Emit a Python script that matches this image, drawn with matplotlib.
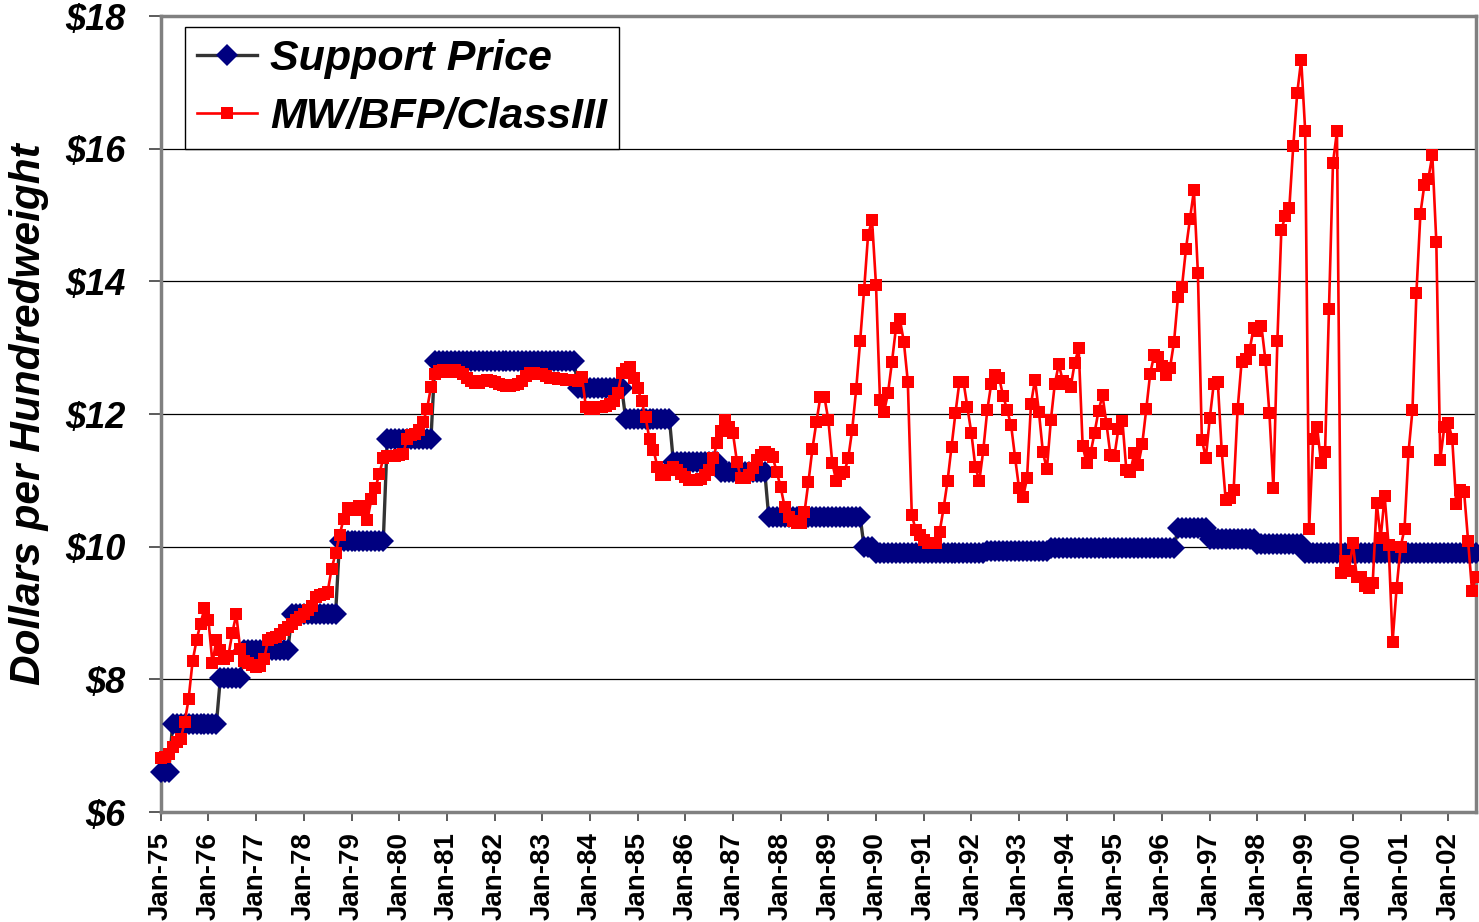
import numpy as np
import matplotlib
matplotlib.use('Agg')
import matplotlib.pyplot as plt

# monthly prices, $/cwt (Jan-75 .. Aug-02)
mw_1975_79 = [6.81, 6.83, 6.88, 6.98, 7.06, 7.10, 7.35, 7.70, 8.27, 8.59, 8.84, 9.07,
              8.89, 8.25, 8.59, 8.44, 8.31, 8.35, 8.70, 8.98, 8.45, 8.27, 8.25, 8.22,
              8.19, 8.20, 8.31, 8.59, 8.62, 8.64, 8.69, 8.74, 8.79, 8.84, 8.89, 8.94,
              8.98, 9.04, 9.11, 9.24, 9.27, 9.29, 9.32, 9.67, 9.90, 10.17, 10.42, 10.59,
              10.57, 10.56, 10.62, 10.57, 10.40, 10.72, 10.88, 11.10, 11.33, 11.36, 11.36, 11.37]
mw_1980_84 = [11.38, 11.40, 11.63, 11.68, 11.70, 11.76, 11.88, 12.07, 12.41, 12.61, 12.65, 12.66,
              12.64, 12.66, 12.67, 12.64, 12.60, 12.55, 12.50, 12.47, 12.47, 12.50, 12.52, 12.50,
              12.48, 12.46, 12.44, 12.43, 12.43, 12.44, 12.46, 12.50, 12.58, 12.62, 12.62, 12.60,
              12.60, 12.58, 12.55, 12.54, 12.53, 12.53, 12.52, 12.52, 12.52, 12.50, 12.56, 12.10,
              12.08, 12.08, 12.10, 12.10, 12.12, 12.15, 12.20, 12.31, 12.62, 12.68, 12.71, 12.55]
mw_1985_89 = [12.39, 12.20, 11.95, 11.62, 11.46, 11.20, 11.08, 11.08, 11.15, 11.20, 11.16, 11.10,
              11.05, 11.00, 11.00, 11.00, 11.02, 11.08, 11.15, 11.33, 11.56, 11.75, 11.91, 11.80,
              11.71, 11.28, 11.03, 11.03, 11.08, 11.18, 11.30, 11.38, 11.43, 11.40, 11.35, 11.13,
              10.90, 10.60, 10.45, 10.38, 10.35, 10.35, 10.52, 10.98, 11.48, 11.88, 12.26, 12.26,
              11.91, 11.26, 10.99, 11.10, 11.12, 11.33, 11.76, 12.37, 13.10, 13.87, 14.70, 14.92]
mw_1990_94 = [13.94, 12.21, 12.03, 12.31, 12.78, 13.29, 13.43, 13.09, 12.49, 10.48, 10.25, 10.17,
              10.10, 10.05, 10.05, 10.05, 10.22, 10.58, 10.99, 11.50, 12.02, 12.49, 12.49, 12.10,
              11.71, 11.20, 10.99, 11.46, 12.06, 12.46, 12.59, 12.54, 12.27, 12.06, 11.83, 11.34,
              10.88, 10.75, 11.03, 12.15, 12.52, 12.03, 11.42, 11.17, 11.91, 12.46, 12.75, 12.50,
              12.45, 12.41, 12.77, 12.99, 11.52, 11.26, 11.41, 11.72, 12.05, 12.28, 11.85, 11.38]
mw_1995_99 = [11.37, 11.78, 11.90, 11.15, 11.13, 11.41, 11.23, 11.55, 12.07, 12.61, 12.89, 12.86,
              12.73, 12.59, 12.70, 13.09, 13.77, 13.92, 14.49, 14.94, 15.37, 14.13, 11.61, 11.34,
              11.94, 12.46, 12.49, 11.44, 10.70, 10.74, 10.86, 12.07, 12.79, 12.83, 12.96, 13.29,
              13.25, 13.32, 12.81, 12.01, 10.88, 13.10, 14.77, 14.99, 15.10, 16.04, 16.84, 17.34,
              16.27, 10.27, 11.62, 11.81, 11.26, 11.42, 13.59, 15.79, 16.26, 9.60, 9.79, 9.63]
mw_2000_02 = [10.05, 9.54, 9.54, 9.41, 9.37, 9.46, 10.66, 10.13, 10.76, 10.02, 8.57, 9.37,
              9.99, 10.27, 11.42, 12.06, 13.83, 15.02, 15.46, 15.55, 15.90, 14.60, 11.31, 11.80,
              11.87, 11.63, 10.65, 10.85, 10.82, 10.09, 9.33, 9.55]

# support price: level and how many months it held
support_levels = [6.61, 7.33, 8.02, 8.44, 8.99, 10.09, 11.63, 12.80, 12.39, 11.93, 11.28,
                  11.13, 10.45, 10.00, 9.91, 9.94, 9.98, 10.28, 10.11, 10.04, 9.91]
support_months = [3, 12, 6, 12, 12, 12, 12, 36, 12, 12, 12,
                  12, 24, 3, 28, 16, 32, 8, 12, 12, 44]

tick_labels = ['Jan-75', 'Jan-76', 'Jan-77', 'Jan-78', 'Jan-79', 'Jan-80', 'Jan-81',
               'Jan-82', 'Jan-83', 'Jan-84', 'Jan-85', 'Jan-86', 'Jan-87', 'Jan-88',
               'Jan-89', 'Jan-90', 'Jan-91', 'Jan-92', 'Jan-93', 'Jan-94', 'Jan-95',
               'Jan-96', 'Jan-97', 'Jan-98', 'Jan-99', 'Jan-00', 'Jan-01', 'Jan-02']

mw_price = np.array(mw_1975_79 + mw_1980_84 + mw_1985_89 + mw_1990_94 + mw_1995_99 + mw_2000_02)
support = np.repeat(support_levels, support_months)
months = np.arange(len(mw_price))

plt.rcParams['font.family'] = ['Liberation Sans', 'DejaVu Sans']

fig = plt.figure(figsize=(14.79, 9.22), dpi=100)
ax = fig.add_axes([0.1087, 0.1193, 0.8893, 0.8633])

ax.plot(months, support, color='#333333', lw=2.4, marker='D', ms=10.8,
        mfc='#000080', mec='#000080', mew=0, label='Support Price', clip_on=False, zorder=3)
ax.plot(months, mw_price, color='#ff0000', lw=1.9, marker='s', ms=8.3,
        mfc='#ff0000', mec='#ff0000', mew=0, label='MW/BFP/ClassIII', clip_on=False, zorder=4)

ax.set_xlim(0, len(mw_price) - 1)
ax.set_ylim(6, 18)

ax.set_xticks(np.arange(0, len(mw_price), 12))
ax.set_xticklabels(tick_labels, rotation=90, fontsize=20, fontweight='bold')
ax.set_yticks(np.arange(6, 19, 2))
ax.set_yticklabels(['$' + str(v) for v in range(6, 19, 2)],
                   fontsize=26, fontweight='bold', fontstyle='italic')

ax.tick_params(axis='y', length=8.5, width=1.2, color='#404040', pad=17)
ax.tick_params(axis='x', length=6.5, width=1.2, color='#404040', pad=8)

ax.yaxis.grid(True, color='black', lw=0.9)
ax.set_axisbelow(True)
for s in ax.spines.values():
    s.set_color('#808080')
    s.set_linewidth(2.5)

ax.set_ylabel('Dollars per Hundredweight', fontsize=30.5, fontweight='bold', fontstyle='italic')
ax.yaxis.set_label_coords(-0.085, 0.5)

leg = ax.legend(loc='upper left', bbox_to_anchor=(0.0185, 0.986), borderaxespad=0,
                prop={'size': 31, 'weight': 'bold', 'style': 'italic'},
                frameon=True, fancybox=False, edgecolor='black', framealpha=1,
                borderpad=0.28, labelspacing=0.42, handlelength=1.4, handletextpad=0.3)
leg.get_frame().set_linewidth(1.0)

fig.savefig('out.png', dpi=100)
